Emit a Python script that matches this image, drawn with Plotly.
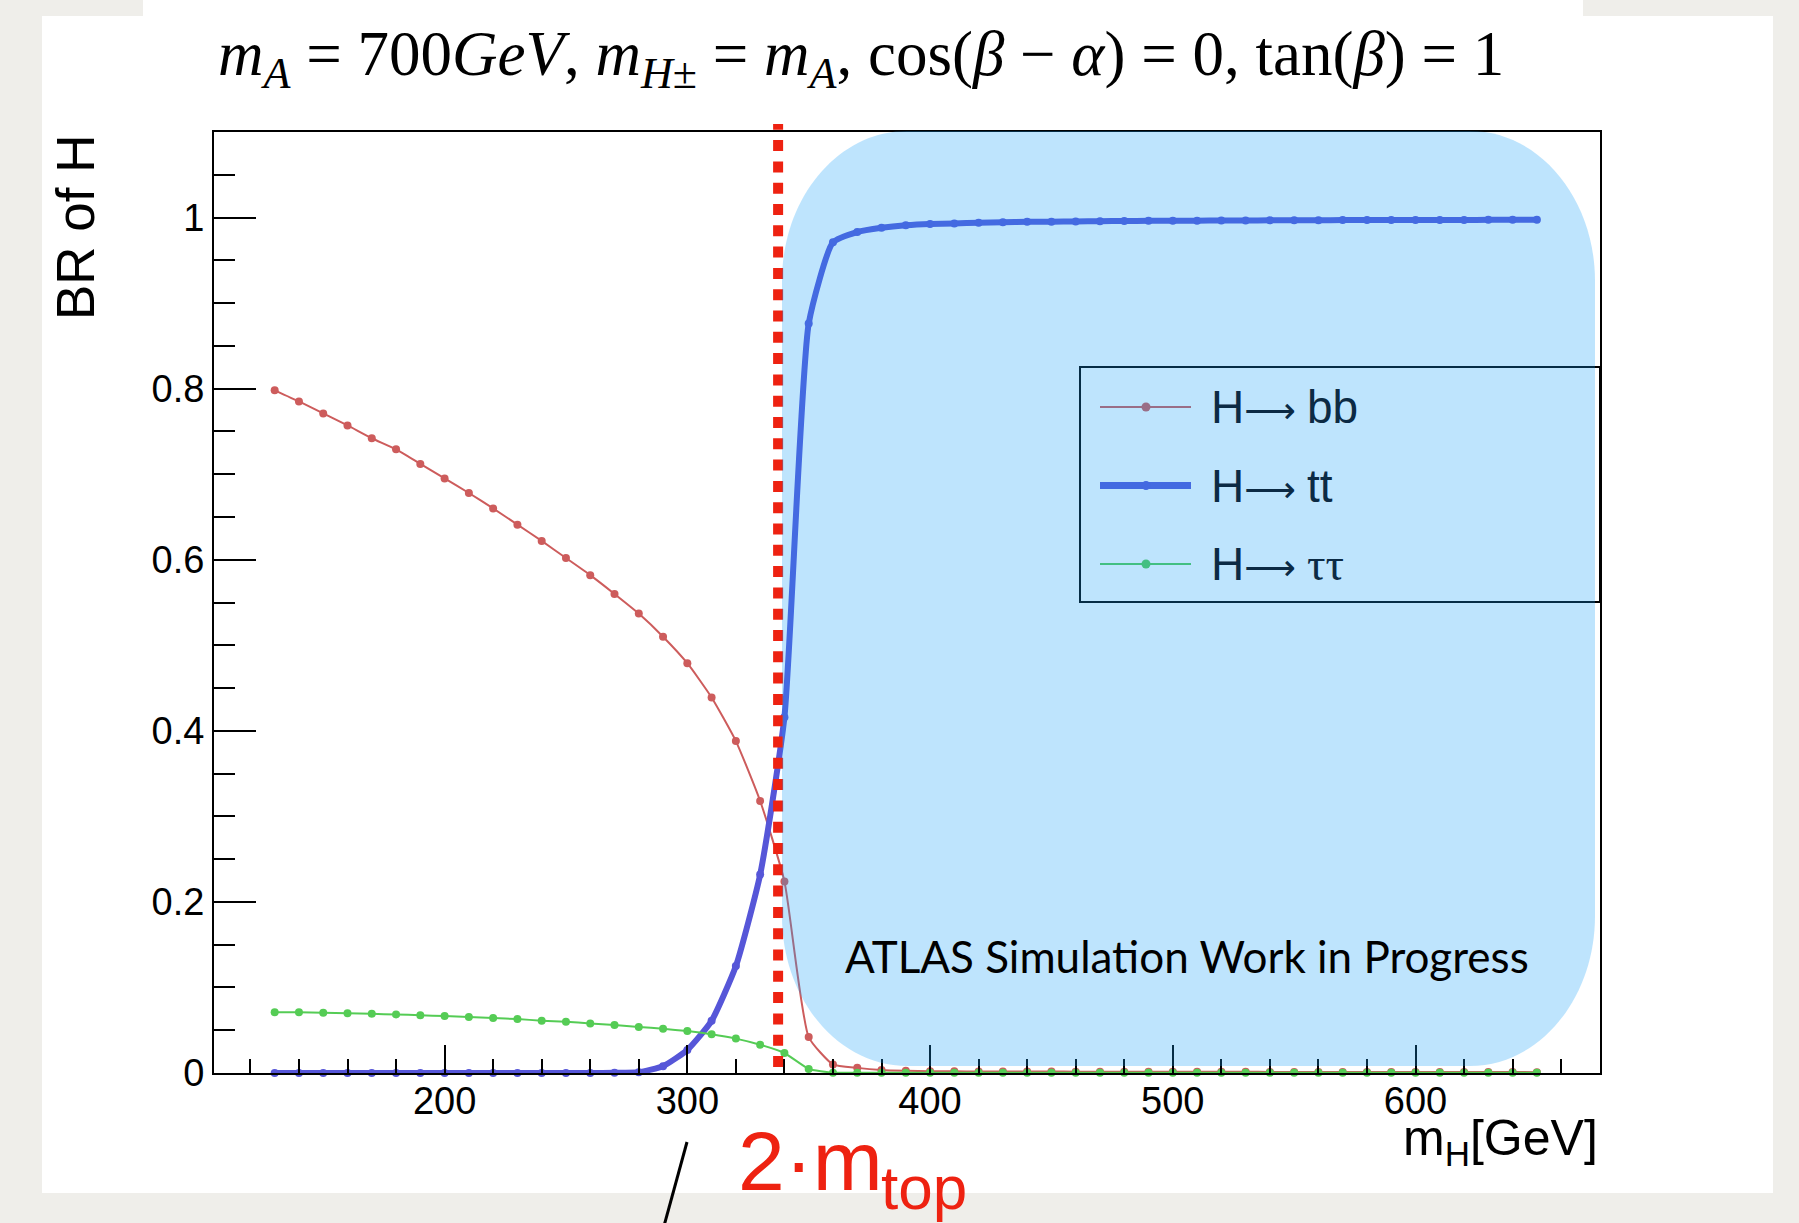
import plotly.graph_objects as go

# ---------------- data ----------------
MASS_H = [130, 140, 150, 160, 170, 180, 190, 200, 210, 220, 230, 240, 250, 260, 270,
          280, 290, 300, 310, 320, 330, 340, 350, 360, 370, 380, 390, 400, 410, 420,
          430, 440, 450, 460, 470, 480, 490, 500, 510, 520, 530, 540, 550, 560, 570,
          580, 590, 600, 610, 620, 630, 640, 650]

BR_BB = [0.798, 0.785, 0.771, 0.757, 0.742, 0.729, 0.712, 0.695, 0.678, 0.660,
         0.641, 0.622, 0.602, 0.582, 0.560, 0.537, 0.510, 0.479, 0.439, 0.388,
         0.318, 0.224, 0.042, 0.010, 0.006, 0.0035, 0.0025, 0.0020, 0.0019, 0.0018,
         0.0018, 0.0017, 0.0017, 0.0016, 0.0016, 0.0015, 0.0015, 0.0015, 0.0014, 0.0014,
         0.0014, 0.0013, 0.0013, 0.0013, 0.0012, 0.0012, 0.0012, 0.0012, 0.0011, 0.0011,
         0.0011, 0.0011, 0.0010]

BR_TT = [0.0, 0.0, 0.0, 0.0, 0.0, 0.0, 0.0, 0.0, 0.0, 0.0,
         0.0, 0.0, 0.0, 0.0, 0.0002, 0.001, 0.008, 0.027, 0.061, 0.125,
         0.232, 0.416, 0.876, 0.971, 0.983, 0.988, 0.991, 0.9925, 0.993, 0.994,
         0.9945, 0.995, 0.9952, 0.9955, 0.9957, 0.996, 0.9962, 0.9963, 0.9964, 0.9965,
         0.9966, 0.9967, 0.9968, 0.9969, 0.997, 0.997, 0.9971, 0.9971, 0.9972, 0.9972,
         0.9973, 0.9973, 0.9974]

BR_TAUTAU = [0.0711, 0.0709, 0.0705, 0.0699, 0.0692, 0.0684, 0.0675, 0.0665, 0.0654, 0.0642,
             0.0630, 0.0612, 0.0598, 0.0580, 0.0560, 0.0539, 0.0516, 0.0491, 0.0453, 0.0402,
             0.0331, 0.0234, 0.0047, 0.0004, 0.0003, 0.0003, 0.0003, 0.0003, 0.0003, 0.0003,
             0.0003, 0.0003, 0.0003, 0.0003, 0.0003, 0.0003, 0.0003, 0.0003, 0.0003, 0.0003,
             0.0003, 0.0003, 0.0003, 0.0003, 0.0003, 0.0003, 0.0003, 0.0003, 0.0003, 0.0003,
             0.0003, 0.0003, 0.0003]

SERIES_NAMES = ["H\u2192 bb", "H\u2192 tt", "H\u2192 \u03c4\u03c4"]
X_TICK_VALS = [200, 300, 400, 500, 600]
X_TICK_TEXT = ["200", "300", "400", "500", "600"]
Y_TICK_VALS = [0, 0.2, 0.4, 0.6, 0.8, 1.0]
Y_TICK_TEXT = ["0", "0.2", "0.4", "0.6", "0.8", "1"]
X_RANGE = [105, 676]
Y_RANGE = [0, 1.1]
TWO_MTOP_MARK = 337.4  # GeV, where the dotted 2*m_top line is drawn

# ---------------- styling ----------------
W, H = 1799, 1223
PL, PR, PT, PB = 214, 1600, 132, 1073   # plot-area edges in pixels

C_BB = "#cd5c5c"
C_TT = "#5656d8"
C_TAU = "#55cc55"
C_RED = "#ee2211"
OVERLAY = "rgba(23,159,248,0.28)"
NAVY = "#0c2a44"
SANS = "Liberation Sans, Arial, sans-serif"
SERIF = "Liberation Serif, Times New Roman, serif"


def xp(px):
    return (px - PL) / (PR - PL)


def yp(py):
    return (PB - py) / (PB - PT)


def legend_label(name):
    # long arrow in DejaVu, Greek tau in a serif face, like the ROOT legend
    head, tail = name.split("\u2192")
    tail = tail.replace("\u03c4\u03c4", f"<span style='font-family:{SERIF}'>\u03c4\u03c4</span>")
    return (f"{head}<span style='font-family:DejaVu Sans;font-size:36px'>\u27f6</span>"
            f"<span style='font-size:40px'> </span>{tail.strip()}")


fig = go.Figure()

fig.add_trace(go.Scatter(x=MASS_H, y=BR_BB, name=SERIES_NAMES[0], mode="lines+markers",
                         line=dict(color=C_BB, width=2, shape="spline", smoothing=0.5),
                         marker=dict(color=C_BB, size=8), cliponaxis=False))
fig.add_trace(go.Scatter(x=MASS_H, y=BR_TT, name=SERIES_NAMES[1], mode="lines+markers",
                         line=dict(color=C_TT, width=6, shape="spline", smoothing=0.5),
                         marker=dict(color=C_TT, size=8), cliponaxis=False))
fig.add_trace(go.Scatter(x=MASS_H, y=BR_TAUTAU, name=SERIES_NAMES[2], mode="lines+markers",
                         line=dict(color=C_TAU, width=2, shape="spline", smoothing=0.4),
                         marker=dict(color=C_TAU, size=8), cliponaxis=False))

shapes = []
# page: white sheet on grey background
shapes.append(dict(type="rect", xref="paper", yref="paper", layer="below",
                   x0=xp(42), x1=xp(1773), y0=yp(1193), y1=yp(16),
                   fillcolor="white", line=dict(width=0)))
shapes.append(dict(type="rect", xref="paper", yref="paper", layer="below",
                   x0=xp(143), x1=xp(1583), y0=yp(17), y1=yp(-2),
                   fillcolor="white", line=dict(width=0)))
# dotted 2*m_top marker
shapes.append(dict(type="line", xref="x", yref="paper", layer="above",
                   x0=TWO_MTOP_MARK, x1=TWO_MTOP_MARK, y0=yp(1067), y1=yp(124),
                   line=dict(color=C_RED, width=10, dash="11px,10.3px")))
# legend box
LEG_L, LEG_R, LEG_T, LEG_B = 1080, 1600, 367, 602
ROWS = [407, 485.5, 564]
shapes.append(dict(type="rect", xref="paper", yref="paper", layer="above",
                   x0=xp(LEG_L), x1=xp(LEG_R), y0=yp(LEG_B), y1=yp(LEG_T),
                   fillcolor="white", line=dict(color="black", width=2)))
for row, col, lw in zip(ROWS, [C_BB, C_TT, C_TAU], [2, 7, 2]):
    shapes.append(dict(type="line", xref="paper", yref="paper", layer="above",
                       x0=xp(1100), x1=xp(1191), y0=yp(row), y1=yp(row),
                       line=dict(color=col, width=lw)))
    shapes.append(dict(type="circle", xref="paper", yref="paper", layer="above",
                       x0=xp(1146 - 4.5), x1=xp(1146 + 4.5), y0=yp(row + 4.5), y1=yp(row - 4.5),
                       fillcolor=col, line=dict(width=0)))

# translucent rounded highlight
BL, BR_, BT, BBm = 782, 1595, 131, 1066
RX, RY, K = 125, 150, 0.5523


def P(px, py):
    return f"{xp(px):.5f},{yp(py):.5f}"


path = (f"M {P(BL + RX, BT)} L {P(BR_ - RX, BT)} "
        f"C {P(BR_ - RX + K * RX, BT)} {P(BR_, BT + RY - K * RY)} {P(BR_, BT + RY)} "
        f"L {P(BR_, BBm - RY)} "
        f"C {P(BR_, BBm - RY + K * RY)} {P(BR_ - RX + K * RX, BBm)} {P(BR_ - RX, BBm)} "
        f"L {P(BL + RX, BBm)} "
        f"C {P(BL + RX - K * RX, BBm)} {P(BL, BBm - RY + K * RY)} {P(BL, BBm - RY)} "
        f"L {P(BL, BT + RY)} "
        f"C {P(BL, BT + RY - K * RY)} {P(BL + RX - K * RX, BT)} {P(BL + RX, BT)} Z")
shapes.append(dict(type="path", xref="paper", yref="paper", layer="above", path=path,
                   fillcolor=OVERLAY, line=dict(width=0)))
# slash pointer
shapes.append(dict(type="line", xref="paper", yref="paper", layer="above",
                   x0=xp(687), y0=yp(1142), x1=xp(664), y1=yp(1226),
                   line=dict(color="black", width=3)))

annotations = []
title_html = ("<i>m</i><sub><i>A</i></sub> = 700<i>GeV</i>, <i>m</i><sub><i>H</i>\u00b1</sub> = "
              "<i>m</i><sub><i>A</i></sub>, cos(<i>\u03b2</i> \u2212 <i>\u03b1</i>) = 0, "
              "tan(<i>\u03b2</i>) = 1")
annotations.append(dict(text=title_html, xref="paper", yref="paper", x=xp(861), y=yp(58),
                        xanchor="center", yanchor="middle", showarrow=False,
                        font=dict(family=SERIF, size=63, color="black")))
annotations.append(dict(text="BR of H", xref="paper", yref="paper", x=xp(76), y=yp(227),
                        xanchor="center", yanchor="middle", textangle=-90, showarrow=False,
                        font=dict(family=SANS, size=53, color="black")))
annotations.append(dict(text="m<sub>H</sub>[GeV]", xref="paper", yref="paper", x=1.0, y=yp(1141),
                        xanchor="right", yanchor="middle", showarrow=False,
                        font=dict(family=SANS, size=50, color="black")))
annotations.append(dict(text="2\u00b7m", xref="paper", yref="paper", x=xp(736), y=yp(1161),
                        xanchor="left", yanchor="middle", showarrow=False,
                        font=dict(family=SANS, size=84, color=C_RED)))
annotations.append(dict(text="top", xref="paper", yref="paper", x=xp(879), y=yp(1187),
                        xanchor="left", yanchor="middle", showarrow=False,
                        font=dict(family=SANS, size=62, color=C_RED)))
for row, name in zip(ROWS, SERIES_NAMES):
    annotations.append(dict(text=legend_label(name), xref="paper", yref="paper", x=xp(1209),
                            y=yp(row), xanchor="left", yanchor="middle", showarrow=False,
                            font=dict(family=SANS, size=46, color=NAVY)))
annotations.append(dict(text="ATLAS Simulation Work in Progress", xref="paper", yref="paper",
                        x=xp(1187), y=yp(956), xanchor="center", yanchor="middle",
                        showarrow=False, font=dict(family="Lato, sans-serif", size=44, color="black")))

fig.update_layout(
    width=W, height=H,
    margin=dict(l=PL, r=W - PR, t=PT, b=H - PB, pad=0),
    paper_bgcolor="#efeeea", plot_bgcolor="white",
    showlegend=False,
    shapes=shapes, annotations=annotations,
    font=dict(family=SANS, color="black"),
)
fig.update_xaxes(range=X_RANGE, tickvals=X_TICK_VALS, ticktext=X_TICK_TEXT,
                 ticks="inside", ticklen=28, tickwidth=2, tickcolor="black",
                 minor=dict(dtick=20, tick0=0, ticks="inside", ticklen=14, tickwidth=2, tickcolor="black"),
                 showline=True, linecolor="black", linewidth=2, mirror=True,
                 showgrid=False, zeroline=False,
                 tickfont=dict(family=SANS, size=38, color="black"), ticklabelstandoff=-7)
fig.update_yaxes(range=Y_RANGE, tickvals=Y_TICK_VALS, ticktext=Y_TICK_TEXT,
                 ticks="inside", ticklen=42, tickwidth=2, tickcolor="black",
                 minor=dict(dtick=0.05, tick0=0, ticks="inside", ticklen=21, tickwidth=2, tickcolor="black"),
                 showline=True, linecolor="black", linewidth=2, mirror=True,
                 showgrid=False, zeroline=False,
                 tickfont=dict(family=SANS, size=38, color="black"), ticklabelstandoff=0)

fig.write_html("out.html", config={"displayModeBar": False},
               post_script="document.body.style.margin='0';document.body.style.overflow='hidden';")
